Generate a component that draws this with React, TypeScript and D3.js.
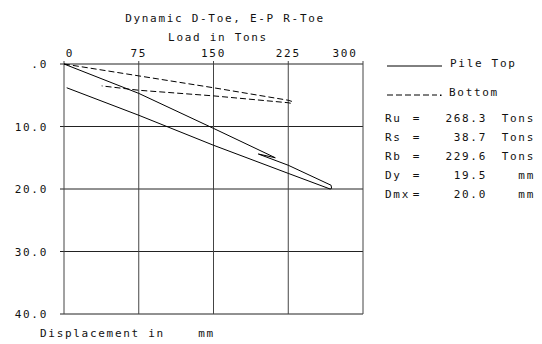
import React from "react";
import * as d3 from "d3";

const title = "Dynamic D-Toe, E-P R-Toe";
const xTitle = "Load in Tons";
const yTitle = "Displacement in    mm";
const xTicks = [0, 75, 150, 225, 300];
const yTicks = [0, 10, 20, 30, 40];
const yTickLabels = [".0", "10.0", "20.0", "30.0", "40.0"];

const topLoad = [0, 75, 150, 212, 195, 225, 268, 268.5, 267, 225, 150, 75, 2.7];
const topDisp = [0, 4.7, 10.3, 15.0, 14.4, 16.2, 19.4, 19.9, 20.0, 17.5, 13.0, 8.2, 3.8];

const botLoad = [0, 75, 150, 225, 229, 228, 225, 150, 75, 37.8];
const botDisp = [0, 1.9, 3.8, 5.8, 6.0, 6.3, 6.2, 5.1, 4.2, 3.5];

const resultLabels = ["Ru", "Rs", "Rb", "Dy", "Dmx"];
const resultValues = ["268.3", "38.7", "229.6", "19.5", "20.0"];
const resultUnits = ["Tons", "Tons", "Tons", "mm", "mm"];

const font = "'DejaVu Sans Mono', monospace";
const ls = 1.7;

export default function App() {
  const x = d3.scaleLinear().domain([0, 300]).range([64, 363]);
  const y = d3.scaleLinear().domain([0, 40]).range([64, 314]);
  const mk = (L: number[], D: number[]) =>
    d3
      .line<number>()
      .x((_, i) => x(L[i]))
      .y((_, i) => y(D[i]))(L) as string;
  const txt = {
    fontFamily: font,
    fontSize: 11,
    letterSpacing: ls,
    fill: "#111",
    style: { whiteSpace: "pre" as const },
  };
  const rowY = [122, 141, 160, 179, 198];
  return (
    <div style={{ position: "absolute", left: 0, top: 0 }}>
      <svg width={542} height={344} style={{ display: "block", background: "#fff" }}>
        <text x={225} y={22} textAnchor="middle" {...txt}>{title}</text>
        <text x={218} y={41} textAnchor="middle" {...txt}>{xTitle}</text>
        {yTicks.map((t) => (
          <line key={"h" + t} x1={60} x2={x(300)} y1={y(t)} y2={y(t)} stroke="#222" strokeWidth={1} />
        ))}
        {xTicks.map((t) => (
          <line key={"v" + t} x1={x(t)} x2={x(t)} y1={61} y2={y(40)} stroke="#444" strokeWidth={1} />
        ))}
        {xTicks.map((t, i) => (
          <text
            key={"xt" + t}
            x={i === 0 ? x(t) + 6 : i === xTicks.length - 1 ? x(t) - 18 : x(t)}
            y={57}
            textAnchor="middle"
            {...txt}
          >
            {t}
          </text>
        ))}
        {yTicks.map((t, i) => (
          <text key={"yt" + t} x={48} y={y(t) + 4} textAnchor="end" {...txt}>
            {yTickLabels[i]}
          </text>
        ))}
        <text x={40} y={337} {...txt}>{yTitle}</text>
        <path d={mk(topLoad, topDisp)} fill="none" stroke="#000" strokeWidth={1} />
        <path d={mk(botLoad, botDisp)} fill="none" stroke="#000" strokeWidth={1} strokeDasharray="6,3" />
        <line x1={387} x2={442} y1={66} y2={66} stroke="#000" strokeWidth={1} />
        <text x={450} y={67} {...txt}>Pile Top</text>
        <line x1={387} x2={437} y1={95} y2={95} stroke="#000" strokeWidth={1} strokeDasharray="6,3" />
        <rect x={440} y={94.5} width={1.5} height={1.5} fill="#000" />
        <text x={449} y={96} {...txt}>Bottom</text>
        {resultLabels.map((l, i) => (
          <g key={l}>
            <text x={385} y={rowY[i]} {...txt}>{l}</text>
            <text x={417} y={rowY[i]} textAnchor="middle" {...txt}>=</text>
            <text x={487} y={rowY[i]} textAnchor="end" {...txt}>{resultValues[i]}</text>
            <text x={535} y={rowY[i]} textAnchor="end" {...txt}>{resultUnits[i]}</text>
          </g>
        ))}
      </svg>
    </div>
  );
}
